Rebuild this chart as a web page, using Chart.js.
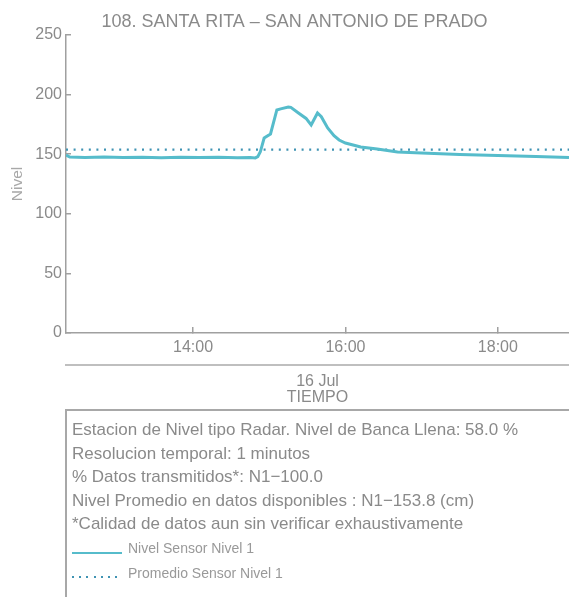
<!DOCTYPE html>
<html>
<head>
<meta charset="utf-8">
<script src="https://cdn.jsdelivr.net/npm/chart.js@4.4.1/dist/chart.umd.min.js"></script>
<style>
  html, body { margin: 0; padding: 0; background: #fff; overflow: hidden; }
  #wrap { position: relative; width: 569px; height: 597px; }
  #chart { position: absolute; left: 0; top: 0; }
  #info {
    position: absolute; left: 65px; top: 409px; width: 540px; height: 220px;
    border: 2px solid #a8a8a8; box-sizing: border-box;
    font-family: "Liberation Sans", Arial, sans-serif; color: #8a8a8a;
    font-size: 17px; line-height: 23.5px; padding: 7px 0 0 5px;
  }
  #info .row { white-space: nowrap; }
  .sample { position: absolute; left: 5px; width: 50px; height: 2px; }
  .solid { top: 141px; background: #56bccb; }
  .dots { top: 165px; height: 2px;
    background: repeating-linear-gradient(90deg, #3f93b3 0 2px, transparent 2px 7.2px); }
  .item { position: absolute; left: 61px; font-size: 14px; line-height: 16px; color: #999; white-space: nowrap; }
</style>
</head>
<body>
<div id="wrap">
  <canvas id="chart" width="569" height="597"></canvas>
  <div id="info">
    <div id="notes"></div>
    <div class="sample solid"></div>
    <div class="item" id="item1" style="top:129px"></div>
    <div class="sample dots"></div>
    <div class="item" id="item2" style="top:154px"></div>
  </div>
</div>
<script>
const TITLE = '108. SANTA RITA – SAN ANTONIO DE PRADO';
const xRange = ['12:20', '18:56'];
const xTickLabels = ['14:00', '16:00', '18:00'];
const yTicks = [0, 50, 100, 150, 200, 250];

// Nivel sensor 1 (cm)
const times = ['12:20', '12:23', '12:35', '12:50', '13:05', '13:20', '13:35', '13:50',
  '14:05', '14:20', '14:35', '14:45', '14:49', '14:51', '14:53', '14:56', '15:01',
  '15:06', '15:09', '15:15', '15:17', '15:23', '15:29', '15:33', '15:38', '15:41',
  '15:46', '15:51', '15:55', '16:00', '16:12', '16:25', '16:41', '17:00', '17:30',
  '18:00', '18:30', '18:56'];
const nivel = [149.3, 147.6, 147.3, 147.6, 147.2, 147.5, 147.1, 147.4,
  147.2, 147.5, 147.0, 147.2, 146.9, 148.0, 152.0, 163.6, 167.0,
  187.1, 188.0, 189.6, 189.3, 184.6, 180.0, 174.5, 184.6, 181.5,
  172.0, 165.5, 161.9, 159.4, 156.0, 154.4, 151.8, 151.0, 149.7,
  148.9, 148.1, 147.2];
const promedio = 153.8;

const seriesNames = ['Nivel Sensor Nivel 1', 'Promedio Sensor Nivel 1'];
const notes = [
  'Estacion de Nivel tipo Radar. Nivel de Banca Llena: 58.0 %',
  'Resolucion temporal: 1 minutos',
  '% Datos transmitidos*: N1\u2212100.0',
  'Nivel Promedio en datos disponibles : N1\u2212153.8 (cm)',
  '*Calidad de datos aun sin verificar exhaustivamente'
];
const xTitle = ['16 Jul', 'TIEMPO'];
const yTitle = 'Nivel';

function toMin(t) {
  const [h, m] = t.split(':').map(Number);
  return h * 60 + m;
}

// info box text
document.getElementById('notes').innerHTML = notes.map(n => '<div class="row"></div>').join('');
document.querySelectorAll('#notes .row').forEach((el, i) => { el.textContent = notes[i]; });
document.getElementById('item1').textContent = seriesNames[0];
document.getElementById('item2').textContent = seriesNames[1];

const GRAY = '#8a8a8a';
const AXIS = '#a0a0a0';
Chart.defaults.font.family = '"Liberation Sans", Arial, sans-serif';
Chart.defaults.color = GRAY;

const xMin = toMin(xRange[0]), xMax = toMin(xRange[1]);

// title + rule under the time labels
const extras = {
  id: 'extras',
  afterDraw(chart) {
    const { ctx, chartArea } = chart;
    ctx.save();
    ctx.fillStyle = GRAY;
    ctx.font = '18px "Liberation Sans", Arial, sans-serif';
    ctx.textAlign = 'center';
    ctx.textBaseline = 'middle';
    ctx.fillText(TITLE, 294.5, 22);
    ctx.strokeStyle = '#aaaaaa';
    ctx.lineWidth = 1.5;
    ctx.beginPath();
    ctx.moveTo(chartArea.left - 1, 365);
    ctx.lineTo(chart.width, 365);
    ctx.stroke();
    ctx.restore();
  }
};

new Chart(document.getElementById('chart'), {
  type: 'line',
  data: {
    datasets: [
      {
        label: seriesNames[0],
        data: times.map((t, i) => ({ x: toMin(t), y: nivel[i] })),
        borderColor: '#56bccb',
        borderWidth: 3,
        pointRadius: 0,
        tension: 0
      },
      {
        label: seriesNames[1],
        data: [{ x: xMin, y: promedio }, { x: xMax, y: promedio }],
        borderColor: '#3f93b3',
        borderWidth: 2.2,
        borderDash: [2, 5.6],
        pointRadius: 0
      }
    ]
  },
  options: {
    responsive: false,
    animation: false,
    layout: { padding: { top: 35, left: 0, right: 0, bottom: 191 } },
    plugins: { legend: { display: false }, tooltip: { enabled: false }, title: { display: false } },
    scales: {
      x: {
        type: 'linear',
        min: xMin,
        max: xMax,
        afterBuildTicks: s => { s.ticks = xTickLabels.map(t => ({ value: toMin(t) })); },
        afterFit: s => { s.height = 73; s.paddingLeft = 0; s.paddingRight = 0; },
        ticks: {
          autoSkip: false, maxRotation: 0, padding: 11,
          font: { size: 16 }, color: GRAY,
          callback: v => xTickLabels.find(t => toMin(t) === v) || ''
        },
        grid: { display: true, drawOnChartArea: false, drawTicks: true, tickLength: -6, color: AXIS, lineWidth: 1.5 },
        border: { display: true, color: AXIS, width: 1.5 },
        title: { display: true, text: xTitle, font: { size: 16, lineHeight: 1 }, color: GRAY, padding: { top: 0, bottom: 0 } }
      },
      y: {
        min: 0,
        max: 250,
        afterBuildTicks: s => { s.ticks = yTicks.map(v => ({ value: v })); },
        afterFit: s => { s.width = 66; s.paddingTop = 0; s.paddingBottom = 0; },
        ticks: { padding: 9, font: { size: 16 }, color: GRAY },
        grid: { display: true, drawOnChartArea: false, drawTicks: true, tickLength: -5, color: AXIS, lineWidth: 1.5 },
        border: { display: true, color: AXIS, width: 1.5 },
        title: { display: true, text: yTitle, font: { size: 15.5 }, color: '#a8a8a8', padding: { top: 8, bottom: 0 } }
      }
    }
  },
  plugins: [extras]
});
</script>
</body>
</html>
